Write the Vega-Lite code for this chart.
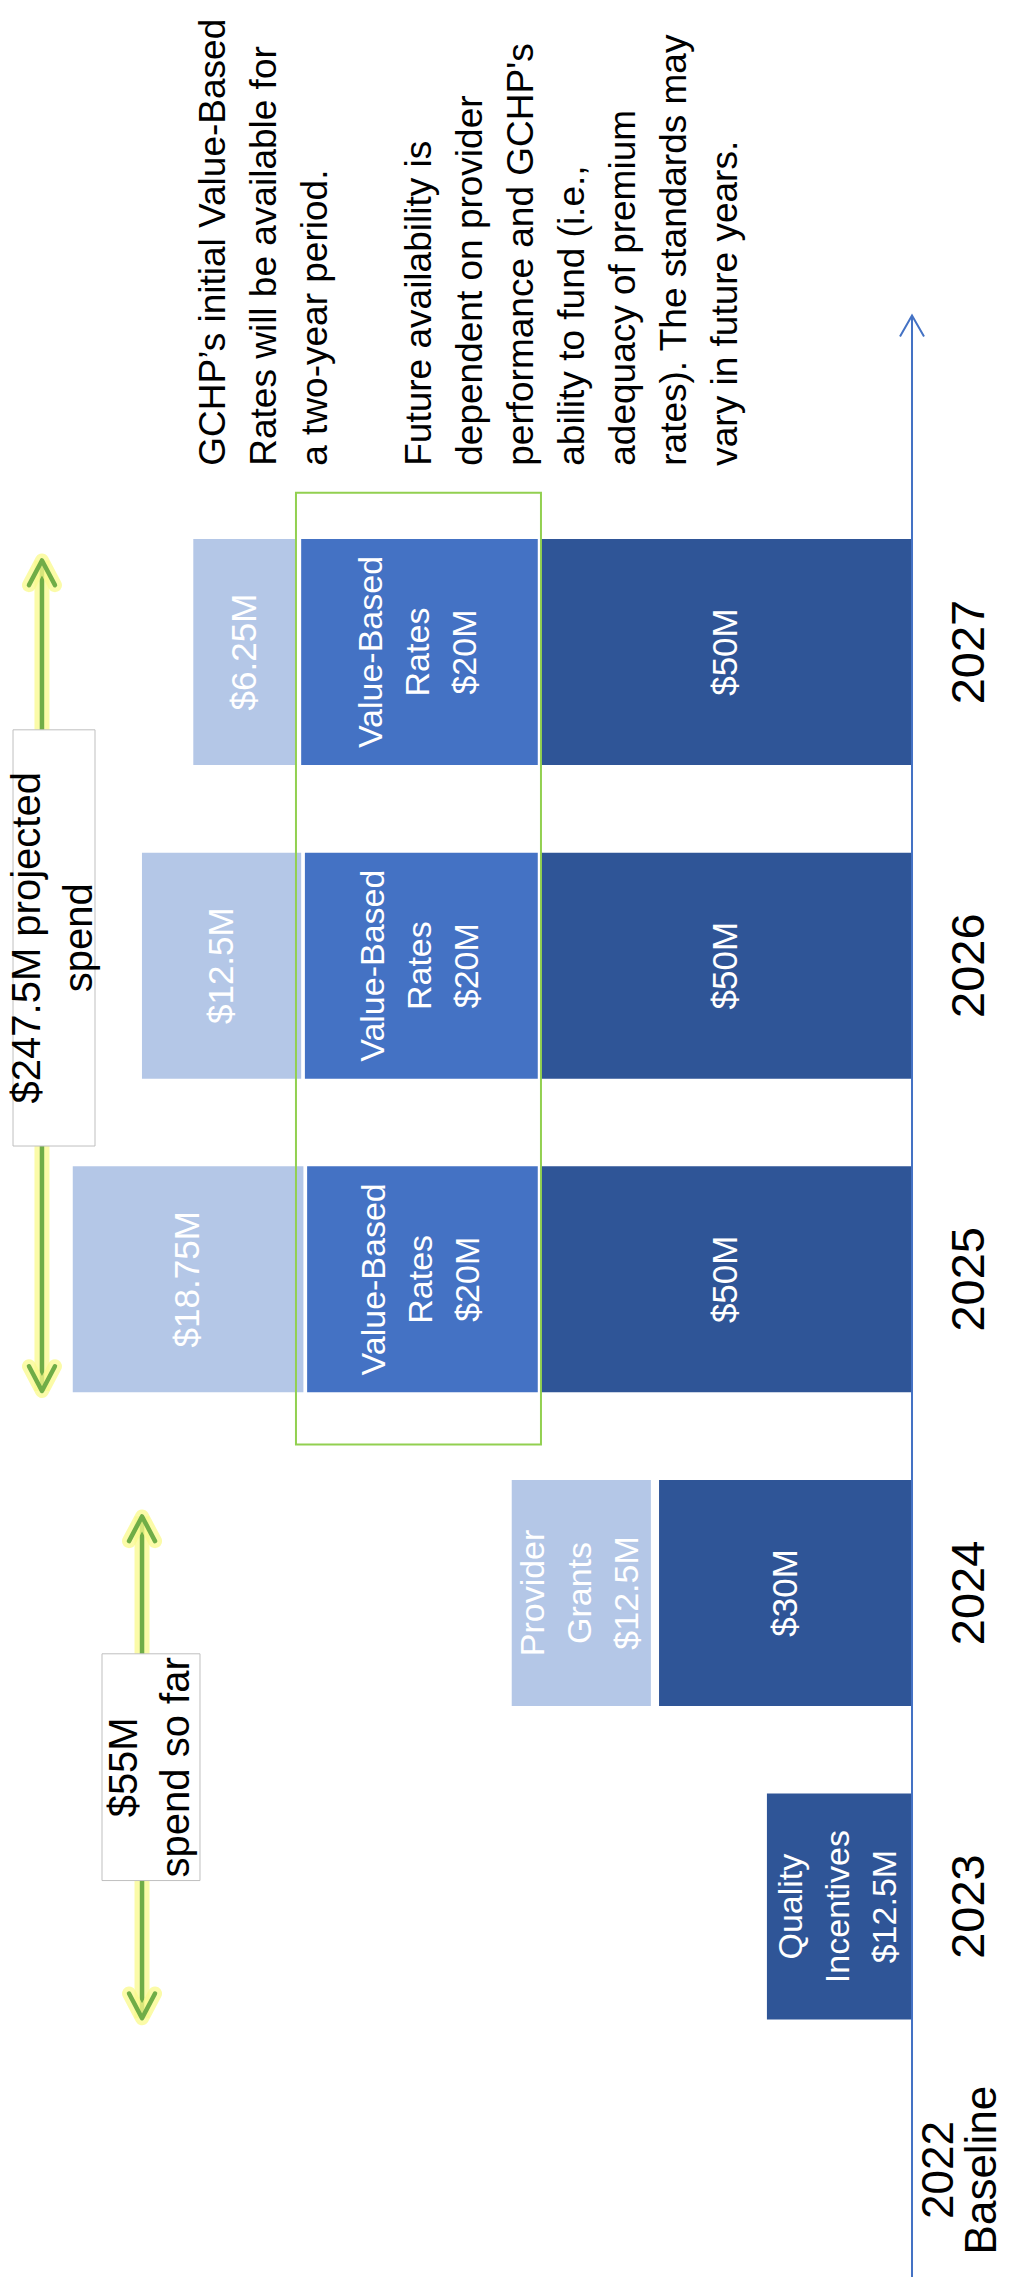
{
  "$schema": "https://vega.github.io/schema/vega-lite/v6.json",
  "width": 1012,
  "height": 2282,
  "autosize": {"type": "none"},
  "padding": 0,
  "background": "white",
  "config": {"view": {"stroke": null}, "text": {"font": "Liberation Sans"}},
  "datasets": {
    "bars": [
      {"year": 2023, "tier": "base", "start": 0, "end": 19.5, "label": "Quality\nIncentives\n$12.5M"},
      {"year": 2024, "tier": "base", "start": 0, "end": 34, "label": "$30M"},
      {"year": 2024, "tier": "extra", "start": 35.1, "end": 53.8, "label": "Provider\nGrants\n$12.5M"},
      {"year": 2025, "tier": "base", "start": 0, "end": 50, "label": "$50M"},
      {"year": 2025, "tier": "vbr", "start": 50.3, "end": 81.3, "label": "Value-Based\nRates\n$20M"},
      {"year": 2025, "tier": "extra", "start": 81.8, "end": 112.8, "label": "$18.75M"},
      {"year": 2026, "tier": "base", "start": 0, "end": 50, "label": "$50M"},
      {"year": 2026, "tier": "vbr", "start": 50.3, "end": 81.6, "label": "Value-Based\nRates\n$20M"},
      {"year": 2026, "tier": "extra", "start": 82.1, "end": 103.5, "label": "$12.5M"},
      {"year": 2027, "tier": "base", "start": 0, "end": 50, "label": "$50M"},
      {"year": 2027, "tier": "vbr", "start": 50.3, "end": 82.1, "label": "Value-Based\nRates\n$20M"},
      {"year": 2027, "tier": "extra", "start": 82.8, "end": 96.6, "label": "$6.25M"}
    ],
    "years": [
      {"year": 2023, "label": "2023"},
      {"year": 2024, "label": "2024"},
      {"year": 2025, "label": "2025"},
      {"year": 2026, "label": "2026"},
      {"year": 2027, "label": "2027"}
    ]
  },
  "layer": [
    {
      "data": {"name": "bars"},
      "mark": {"type": "bar", "height": 226},
      "encoding": {
        "x": {"field": "start", "type": "quantitative", "scale": {"domain": [-13.44, 122.58], "reverse": true, "nice": false, "zero": false}, "axis": null},
        "x2": {"field": "end"},
        "y": {"field": "year", "type": "quantitative", "scale": {"domain": [2021.819, 2029.063], "nice": false, "zero": false}, "axis": null},
        "color": {"field": "tier", "type": "nominal", "scale": {"domain": ["base", "vbr", "extra"], "range": ["#2F5597", "#4472C4", "#B4C7E7"]}, "legend": null}
      }
    },
    {
      "data": {"name": "bars"},
      "transform": [
        {"filter": "indexof(datum.label, '\\n') >= 0"},
        {"calculate": "(datum.start + datum.end) / 2", "as": "mid"}
      ],
      "mark": {"type": "text", "angle": 270, "align": "center", "baseline": "middle", "fontSize": 34, "lineHeight": 47, "lineBreak": "\n", "dy": -47, "color": "#FFFFFF"},
      "encoding": {
        "x": {"field": "mid", "type": "quantitative"},
        "y": {"field": "year", "type": "quantitative"},
        "text": {"field": "label", "type": "nominal"}
      }
    },
    {
      "data": {"name": "bars"},
      "transform": [
        {"filter": "indexof(datum.label, '\\n') < 0"},
        {"calculate": "(datum.start + datum.end) / 2", "as": "mid"}
      ],
      "mark": {"type": "text", "angle": 270, "align": "center", "baseline": "middle", "fontSize": 35, "color": "#FFFFFF"},
      "encoding": {
        "x": {"field": "mid", "type": "quantitative"},
        "y": {"field": "year", "type": "quantitative"},
        "text": {"field": "label", "type": "nominal"}
      }
    },
    {
      "data": {"values": [{}]},
      "mark": {"type": "rect", "fillOpacity": 0, "stroke": "#92D050", "strokeWidth": 2},
      "encoding": {
        "x": {"datum": 82.8, "type": "quantitative"},
        "x2": {"datum": 49.87},
        "y": {"datum": 2024.473, "type": "quantitative"},
        "y2": {"datum": 2027.508}
      }
    },
    {
      "data": {"values": [{}]},
      "mark": {"type": "rule", "stroke": "#4472C4", "strokeWidth": 2},
      "encoding": {
        "x": {"datum": 0, "type": "quantitative"},
        "y": {"datum": 2021.819, "type": "quantitative"},
        "y2": {"datum": 2028.073}
      }
    },
    {
      "data": {"values": [{}]},
      "mark": {"type": "point", "shape": "M -1 1.75 L 0 0 L 1 1.75", "size": 576, "filled": false, "stroke": "#4472C4", "strokeWidth": 2, "opacity": 1},
      "encoding": {
        "x": {"datum": 0, "type": "quantitative"},
        "y": {"datum": 2028.073, "type": "quantitative"}
      }
    },
    {
      "data": {"values": [{"x": 116.94, "y1": 2024.644, "y2": 2027.292}, {"x": 103.49, "y1": 2022.644, "y2": 2024.244}]},
      "mark": {"type": "rule", "stroke": "#FAFA8C", "strokeWidth": 15, "opacity": 0.75},
      "encoding": {
        "x": {"field": "x", "type": "quantitative"},
        "y": {"field": "y1", "type": "quantitative"},
        "y2": {"field": "y2"}
      }
    },
    {
      "data": {"values": [{"x": 116.94, "y1": 2024.644, "y2": 2027.292}, {"x": 103.49, "y1": 2022.644, "y2": 2024.244}]},
      "mark": {"type": "rule", "stroke": "#70AD47", "strokeWidth": 4.5},
      "encoding": {
        "x": {"field": "x", "type": "quantitative"},
        "y": {"field": "y1", "type": "quantitative"},
        "y2": {"field": "y2"}
      }
    },
    {
      "data": {"values": [{"x": 116.94, "y": 2027.292}, {"x": 103.49, "y": 2024.244}]},
      "layer": [
        {"mark": {"type": "point", "shape": "M -1 1.9 L 0 0 L 1 1.9", "size": 676, "filled": false, "stroke": "#FAFA8C", "strokeWidth": 14, "strokeCap": "round", "strokeJoin": "round", "opacity": 0.75}},
        {"mark": {"type": "point", "shape": "M -1 1.9 L 0 0 L 1 1.9", "size": 676, "filled": false, "stroke": "#70AD47", "strokeWidth": 4.5, "strokeCap": "round", "strokeJoin": "round", "opacity": 1}}
      ],
      "encoding": {
        "x": {"field": "x", "type": "quantitative"},
        "y": {"field": "y", "type": "quantitative"}
      }
    },
    {
      "data": {"values": [{"x": 116.94, "y": 2024.644}, {"x": 103.49, "y": 2022.644}]},
      "layer": [
        {"mark": {"type": "point", "shape": "M -1 -1.9 L 0 0 L 1 -1.9", "size": 676, "filled": false, "stroke": "#FAFA8C", "strokeWidth": 14, "strokeCap": "round", "strokeJoin": "round", "opacity": 0.75}},
        {"mark": {"type": "point", "shape": "M -1 -1.9 L 0 0 L 1 -1.9", "size": 676, "filled": false, "stroke": "#70AD47", "strokeWidth": 4.5, "strokeCap": "round", "strokeJoin": "round", "opacity": 1}}
      ],
      "encoding": {
        "x": {"field": "x", "type": "quantitative"},
        "y": {"field": "y", "type": "quantitative"}
      }
    },
    {
      "data": {"values": [{"x1": 120.83, "x2": 109.81, "y1": 2025.425, "y2": 2026.752}, {"x1": 108.87, "x2": 95.7, "y1": 2023.083, "y2": 2023.806}]},
      "mark": {"type": "rect", "fill": "#FFFFFF", "stroke": "#BFBFBF", "strokeWidth": 1},
      "encoding": {
        "x": {"field": "x1", "type": "quantitative"},
        "x2": {"field": "x2"},
        "y": {"field": "y1", "type": "quantitative"},
        "y2": {"field": "y2"}
      }
    },
    {
      "data": {"values": [{"x": 115.32, "y": 2026.089, "label": "$247.5M projected\nspend"}, {"x": 102.28, "y": 2023.444, "label": "$55M\nspend so far"}]},
      "mark": {"type": "text", "angle": 270, "align": "center", "baseline": "middle", "fontSize": 40, "lineHeight": 52, "lineBreak": "\n", "dy": -26, "color": "#000000"},
      "encoding": {
        "x": {"field": "x", "type": "quantitative"},
        "y": {"field": "y", "type": "quantitative"},
        "text": {"field": "label", "type": "nominal"}
      }
    },
    {
      "data": {"name": "years"},
      "mark": {"type": "text", "angle": 270, "align": "center", "baseline": "middle", "fontSize": 47, "color": "#000000"},
      "encoding": {
        "x": {"datum": -7.8, "type": "quantitative"},
        "y": {"field": "year", "type": "quantitative"},
        "text": {"field": "label", "type": "nominal"}
      }
    },
    {
      "data": {"values": [{}]},
      "mark": {"type": "text", "angle": 270, "align": "center", "baseline": "middle", "fontSize": 44, "lineHeight": 43, "dy": -21.5, "color": "#000000"},
      "encoding": {
        "x": {"datum": -6.6, "type": "quantitative"},
        "y": {"datum": 2022.16, "type": "quantitative"},
        "text": {"value": ["2022", "Baseline"]}
      }
    },
    {
      "data": {"values": [{}]},
      "mark": {"type": "text", "angle": 270, "align": "left", "baseline": "alphabetic", "fontSize": 37, "lineHeight": 51, "color": "#000000"},
      "encoding": {
        "x": {"datum": 92.34, "type": "quantitative"},
        "y": {"datum": 2027.594, "type": "quantitative"},
        "text": {"value": ["GCHP’s initial Value-Based", "Rates will be available for", "a two-year period."]}
      }
    },
    {
      "data": {"values": [{}]},
      "mark": {"type": "text", "angle": 270, "align": "left", "baseline": "alphabetic", "fontSize": 37, "lineHeight": 51, "color": "#000000"},
      "encoding": {
        "x": {"datum": 64.65, "type": "quantitative"},
        "y": {"datum": 2027.594, "type": "quantitative"},
        "text": {"value": ["Future availability is", "dependent on provider", "performance and GCHP's", "ability to fund (i.e.,", "adequacy of premium", "rates). The standards may", "vary in future years."]}
      }
    }
  ]
}
